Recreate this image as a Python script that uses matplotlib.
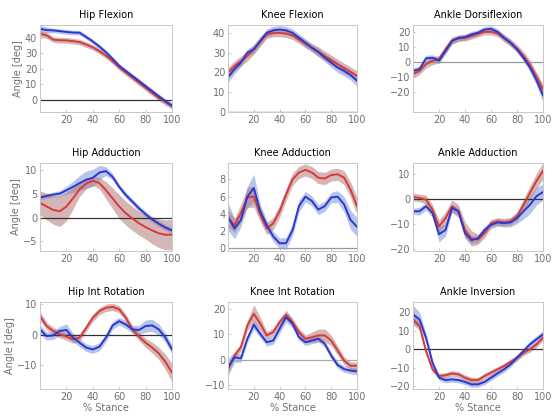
import numpy as np
import matplotlib
matplotlib.use('Agg')
import matplotlib.pyplot as plt

# % stance sample points
pct = np.arange(0, 101, 5)

titles = ['Hip Flexion', 'Knee Flexion', 'Ankle Dorsiflexion',
          'Hip Adduction', 'Knee Adduction', 'Ankle Adduction',
          'Hip Int Rotation', 'Knee Int Rotation', 'Ankle Inversion']

# red group: mean and half band width
red_mean = [
    [42.8, 41.8, 39.0, 38.6, 38.5, 38.0, 37.4, 35.8, 34.0, 31.5, 28.6, 25.0, 21.0, 17.6, 14.3, 11.0, 7.7, 4.4, 1.1, -1.6, -4.0],
    [20.0, 23.3, 25.8, 28.3, 31.7, 35.8, 39.2, 40.0, 40.0, 39.7, 38.7, 36.7, 34.5, 32.5, 30.5, 28.3, 26.3, 24.2, 22.2, 20.3, 18.3],
    [-8.0, -5.8, -1.4, 0.8, 1.9, 8.4, 14.3, 15.6, 16.0, 17.2, 18.7, 20.0, 20.0, 18.9, 16.0, 12.8, 9.0, 4.0, -1.9, -9.7, -17.8],
    [3.1, 2.3, 1.6, 1.3, 2.3, 4.0, 5.9, 7.1, 7.7, 7.2, 5.7, 4.0, 2.3, 0.9, -0.2, -1.2, -2.0, -2.7, -3.3, -3.6, -3.6],
    [3.5, 2.7, 4.1, 5.9, 6.0, 3.9, 2.3, 2.9, 4.3, 6.25, 8.0, 8.8, 9.1, 8.8, 8.2, 8.1, 8.5, 8.6, 8.2, 6.8, 4.9],
    [0.8, 0.4, -0.3, -4.3, -10.9, -7.6, -2.9, -4.9, -12.3, -15.6, -16.0, -13.6, -9.6, -8.9, -9.3, -8.9, -6.9, -2.3, 2.4, 7.1, 11.1],
    [6.2, 2.9, 1.3, 0.2, -0.6, -1.5, -0.9, 2.3, 5.6, 7.8, 8.9, 9.2, 8.4, 5.6, 1.8, -0.6, -2.6, -4.2, -6.1, -8.9, -12.4],
    [-3.7, 1.6, 4.9, 13.4, 18.0, 14.1, 9.5, 10.8, 14.7, 17.6, 14.7, 10.8, 8.2, 8.8, 9.5, 9.5, 7.5, 3.6, -0.4, -2.4, -2.4],
    [16.0, 12.4, -1.1, -11.0, -14.6, -14.2, -13.2, -13.7, -15.5, -16.8, -16.8, -14.6, -12.8, -11.0, -9.2, -7.0, -4.7, -2.0, -0.2, 2.5, 6.1],
]
red_sd = [
    [2.0, 2.0, 1.8, 1.8, 1.8, 1.8, 1.8, 1.8, 1.8, 1.8, 1.8, 1.8, 1.8, 1.8, 1.8, 1.8, 1.8, 1.8, 1.8, 2.0, 2.0],
    [2.5, 2.5, 2.5, 2.5, 2.5, 2.5, 2.0, 2.0, 2.0, 2.0, 2.0, 2.0, 2.0, 2.0, 2.5, 2.5, 2.5, 2.5, 2.5, 2.5, 2.5],
    [2.5, 2.5, 2.5, 2.5, 2.5, 2.5, 2.5, 2.0, 2.0, 2.0, 2.0, 2.0, 2.0, 2.0, 2.5, 2.5, 2.5, 3.0, 3.0, 3.0, 3.0],
    [2.5, 2.8, 3.0, 3.2, 3.0, 2.2, 1.5, 1.1, 1.0, 1.2, 1.8, 2.2, 2.5, 2.5, 2.5, 2.5, 2.5, 2.8, 3.0, 3.1, 3.2],
    [1.0, 0.8, 1.0, 1.2, 1.2, 0.8, 0.7, 0.7, 0.7, 0.7, 0.7, 0.7, 0.7, 0.7, 0.7, 0.7, 0.7, 0.7, 0.8, 0.9, 1.0],
    [1.5, 1.5, 1.8, 2.0, 2.5, 2.5, 2.5, 2.5, 3.2, 3.0, 2.0, 1.8, 1.5, 1.5, 1.5, 1.5, 1.8, 2.2, 2.8, 3.0, 3.2],
    [1.5, 1.2, 1.2, 1.2, 1.2, 1.2, 1.2, 1.2, 1.2, 1.2, 1.2, 1.2, 1.2, 1.2, 1.2, 1.3, 1.5, 1.8, 2.0, 2.5, 3.0],
    [1.5, 1.5, 1.5, 2.0, 3.5, 2.5, 1.5, 1.5, 1.5, 1.8, 1.5, 1.5, 1.5, 2.0, 2.5, 2.5, 2.0, 1.8, 1.5, 1.5, 1.5],
    [3.0, 2.0, 1.5, 1.5, 1.5, 1.5, 1.5, 1.5, 1.5, 1.5, 1.5, 1.5, 1.5, 1.5, 1.5, 1.5, 1.5, 1.5, 1.5, 1.5, 1.5],
]

# blue group: mean and half band width
blue_mean = [
    [46.0, 45.2, 45.0, 44.5, 44.0, 43.6, 43.5, 40.7, 37.8, 34.5, 30.8, 26.5, 22.0, 18.6, 15.4, 12.1, 8.8, 5.5, 2.2, -1.0, -4.0],
    [17.5, 21.7, 25.0, 30.0, 31.7, 35.8, 40.0, 41.3, 41.7, 41.3, 40.0, 37.5, 35.0, 32.5, 30.3, 27.5, 25.0, 22.5, 20.8, 18.7, 15.8],
    [-5.8, -4.7, 2.5, 2.8, 1.0, 7.3, 13.9, 16.0, 16.5, 18.3, 19.4, 21.5, 22.0, 20.0, 16.0, 12.8, 8.4, 2.9, -3.6, -12.0, -22.0],
    [4.2, 4.5, 4.8, 5.0, 5.7, 6.4, 7.2, 7.9, 8.3, 9.4, 9.7, 8.5, 6.4, 4.7, 3.3, 1.9, 0.7, -0.4, -1.3, -2.1, -2.7],
    [3.7, 2.3, 3.3, 6.0, 7.0, 4.3, 2.7, 1.4, 0.6, 0.6, 2.1, 4.9, 6.0, 5.5, 4.5, 4.9, 5.9, 6.0, 5.1, 3.3, 2.5],
    [-4.9, -4.9, -2.9, -5.6, -14.0, -12.3, -3.6, -4.9, -13.6, -16.3, -15.6, -12.3, -10.3, -9.3, -9.6, -9.3, -7.6, -4.9, -2.3, 1.1, 2.7],
    [1.8, -0.4, -0.2, 1.3, 1.6, -0.9, -2.6, -4.2, -4.8, -3.9, -0.9, 3.1, 4.5, 3.4, 1.8, 1.6, 2.9, 3.1, 1.8, -0.9, -4.8],
    [-3.0, 0.9, 0.5, 8.2, 13.7, 10.1, 6.8, 7.5, 12.1, 16.7, 14.1, 8.8, 6.8, 7.5, 8.2, 6.2, 1.6, -2.1, -3.7, -4.3, -4.6],
    [18.7, 16.0, 6.1, -7.4, -15.5, -16.8, -16.4, -16.8, -17.8, -19.1, -19.1, -17.8, -15.5, -13.2, -11.0, -8.3, -4.7, -1.1, 2.5, 5.2, 7.9],
]
blue_sd = [
    [2.5, 2.0, 1.5, 1.5, 1.5, 1.5, 1.5, 1.5, 1.5, 1.5, 1.5, 1.5, 1.5, 1.5, 1.5, 1.5, 1.5, 1.5, 1.5, 1.5, 1.8],
    [2.5, 2.5, 2.0, 2.0, 2.0, 2.0, 2.0, 2.0, 2.0, 2.0, 2.0, 2.0, 2.0, 2.0, 2.0, 2.0, 2.5, 2.5, 2.5, 2.5, 2.8],
    [2.0, 2.0, 2.0, 2.0, 2.0, 2.0, 2.0, 2.0, 2.0, 2.0, 2.0, 2.0, 2.0, 2.0, 2.0, 2.0, 2.0, 2.5, 3.0, 3.5, 4.5],
    [0.5, 0.5, 0.5, 0.6, 0.8, 1.2, 1.6, 1.8, 1.8, 1.5, 0.9, 0.7, 0.6, 0.6, 0.6, 0.6, 0.6, 0.6, 0.6, 0.6, 0.6],
    [1.6, 1.2, 0.8, 1.2, 1.6, 0.8, 0.6, 0.6, 0.6, 0.7, 0.7, 0.7, 0.6, 0.6, 0.6, 0.6, 0.6, 0.7, 0.9, 1.1, 1.1],
    [1.2, 1.5, 1.5, 1.8, 3.0, 2.5, 1.5, 1.5, 1.8, 1.5, 1.5, 1.5, 1.5, 1.5, 1.5, 1.8, 2.2, 3.0, 3.5, 3.5, 3.2],
    [1.5, 1.3, 1.3, 1.5, 2.0, 1.5, 1.3, 1.3, 1.3, 1.3, 1.3, 1.3, 1.3, 1.3, 1.3, 1.5, 2.0, 2.0, 1.8, 1.5, 1.5],
    [3.5, 2.0, 1.5, 1.5, 1.8, 1.5, 1.5, 1.5, 1.8, 2.0, 1.8, 1.3, 1.3, 1.3, 1.3, 1.3, 1.3, 1.3, 1.3, 1.3, 1.3],
    [5.0, 4.0, 2.5, 1.5, 1.5, 1.5, 1.5, 1.5, 1.5, 1.5, 1.5, 1.5, 1.5, 1.5, 1.5, 1.5, 1.5, 1.8, 2.0, 2.0, 2.2],
]

ylims = [(-8, 48.5), (0, 44), (-33, 24.5),
         (-7, 11.4), (-0.3, 9.9), (-20.6, 14.2),
         (-17.8, 10.8), (-11.5, 22.6), (-21.6, 25.4)]
yticks = [[0, 10, 20, 30, 40], [0, 10, 20, 30, 40], [-20, -10, 0, 10, 20],
          [-5, 0, 5, 10], [0, 2, 4, 6, 8], [-20, -10, 0, 10],
          [-10, 0, 10], [-10, 0, 10, 20], [-20, -10, 0, 10, 20]]
zero_col = ['#333333', '#333333', '#999999',
            '#333333', '#999999', '#333333',
            '#333333', '#aaaaaa', '#333333']

fig = plt.figure(figsize=(5.53, 4.16), dpi=100)

lefts = [40, 228, 413]
widths = [132, 129, 130]
tops = [25, 163, 302]
heights = [87, 88, 87]
W, H = 553., 416.

grey = '#707070'
for i in range(9):
    r, c = divmod(i, 3)
    ax = fig.add_axes([lefts[c] / W, 1 - (tops[r] + heights[r]) / H,
                       widths[c] / W, heights[r] / H])
    rm, rs = np.array(red_mean[i]), np.array(red_sd[i])
    bm, bs = np.array(blue_mean[i]), np.array(blue_sd[i])
    ax.fill_between(pct, bm - bs, bm + bs, color='#6f8fd8', alpha=0.5, lw=0)
    ax.fill_between(pct, rm - rs, rm + rs, color='#b07a78', alpha=0.55, lw=0)
    ax.axhline(0, color=zero_col[i], lw=0.9)
    ax.plot(pct, rm, color='#d83a3a', lw=1.4)
    ax.plot(pct, bm, color='#2e36d0', lw=1.4)
    ax.set_xlim(0, 100)
    ax.set_ylim(*ylims[i])
    ax.set_xticks([20, 40, 60, 80, 100])
    ax.set_yticks(yticks[i])
    ax.tick_params(direction='in', length=2, width=0.5, labelsize=7,
                   colors='#bbbbbb', labelcolor=grey, pad=2)
    for s in ax.spines.values():
        s.set_color('#c8c8c8')
        s.set_linewidth(0.7)
    ax.set_title(titles[i], fontsize=7, color='black', pad=5)
    if c == 0:
        ax.set_ylabel('Angle [deg]', fontsize=7, color=grey, labelpad=1)
    if r == 2:
        ax.set_xlabel('% Stance', fontsize=7, color=grey, labelpad=1)

fig.savefig('out.png', dpi=100)
